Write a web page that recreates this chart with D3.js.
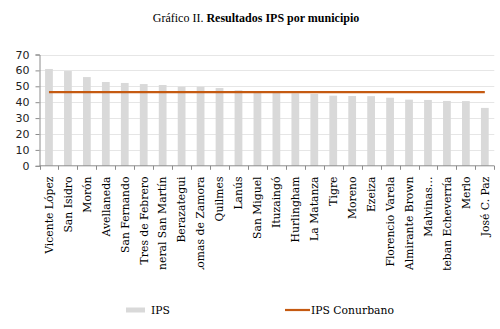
<!DOCTYPE html>
<html>
<head>
<meta charset="utf-8">
<script src="https://cdn.jsdelivr.net/npm/d3@7/dist/d3.min.js"></script>
<style>
  html, body { margin: 0; padding: 0; background: #fff; }
  svg { display: block; }
</style>
</head>
<body>
<svg id="chart" width="500" height="329"></svg>
<script>
// Municipios del Conurbano, ordenados por IPS
const municipios = [
  "Vicente López", "San Isidro", "Morón", "Avellaneda", "San Fernando",
  "Tres de Febrero", "General San Martín", "Berazategui", "Lomas de Zamora",
  "Quilmes", "Lanús", "San Miguel", "Ituzaingó", "Hurlingham", "La Matanza",
  "Tigre", "Moreno", "Ezeiza", "Florencio Varela", "Almirante Brown",
  "Malvinas…", "Esteban Echeverría", "Merlo", "José C. Paz"
];
const ips = [
  60.9, 59.6, 55.8, 52.7, 52.1, 51.4, 50.8, 49.7, 49.7, 48.9, 47.5, 46.3,
  46.0, 45.6, 45.2, 44.1, 43.9, 43.8, 42.8, 41.6, 41.4, 40.8, 40.7, 36.4
];
const ipsConurbano = 46.3;
const yTicks = [0, 10, 20, 30, 40, 50, 60, 70];

const svg = d3.select("#chart");
const plot = { left: 39.5, right: 494.3, top: 54.5, bottom: 165.8 };
const serif = "'DejaVu Serif', serif";

const x = d3.scaleBand()
  .domain(municipios)
  .range([plot.left, plot.right])
  .paddingInner(0.59)
  .paddingOuter(0.295);

const y = d3.scaleLinear()
  .domain([0, 70])
  .range([plot.bottom, plot.top]);

// Title
const title = svg.append("text")
  .attr("x", 256)
  .attr("y", 22)
  .attr("text-anchor", "middle")
  .style("font-family", "'Liberation Serif', serif")
  .style("font-size", "12px")
  .attr("fill", "#000");
title.append("tspan").text("Gráfico II. ");
title.append("tspan").attr("font-weight", "bold").text("Resultados IPS por municipio");

// Horizontal gridlines
svg.append("g")
  .selectAll("line")
  .data(yTicks.filter(d => d > 0))
  .join("line")
  .attr("x1", plot.left)
  .attr("x2", plot.right)
  .attr("y1", d => Math.round(y(d)) + 0.5)
  .attr("y2", d => Math.round(y(d)) + 0.5)
  .attr("stroke", "#e6e6e6")
  .attr("stroke-width", 1);

// Bars
svg.append("g")
  .selectAll("rect")
  .data(municipios.map((m, i) => ({ m, v: ips[i] })))
  .join("rect")
  .attr("x", d => x(d.m))
  .attr("width", x.bandwidth())
  .attr("y", d => y(d.v))
  .attr("height", d => y(0) - y(d.v))
  .attr("fill", "#d9d9d9");

// Conurbano average line, from the first to the last category centre
const half = x.bandwidth() / 2;
svg.append("line")
  .attr("x1", x(municipios[0]) + half)
  .attr("x2", x(municipios[municipios.length - 1]) + half)
  .attr("y1", y(ipsConurbano))
  .attr("y2", y(ipsConurbano))
  .attr("stroke", "#c55a11")
  .attr("stroke-width", 2.2);

// Y axis
const yAxis = svg.append("g")
  .attr("transform", `translate(${plot.left},0)`)
  .call(d3.axisLeft(y).tickValues(yTicks).tickSize(4).tickPadding(6));
yAxis.select(".domain").attr("stroke", "#8c8c8c");
yAxis.selectAll(".tick line").attr("stroke", "#8c8c8c");
yAxis.selectAll(".tick text")
  .style("font-family", "'DejaVu Sans', sans-serif")
  .style("font-size", "11px")
  .attr("fill", "#222");

// X axis: tick marks sit on the category boundaries
const xAxisG = svg.append("g");
xAxisG.append("line")
  .attr("x1", plot.left).attr("x2", plot.right)
  .attr("y1", y(0)).attr("y2", y(0))
  .attr("stroke", "#8c8c8c");
const step = x.step();
const boundaries = d3.range(municipios.length + 1).map(i => plot.left + i * step);
xAxisG.selectAll("line.tk")
  .data(boundaries)
  .join("line")
  .attr("class", "tk")
  .attr("x1", d => Math.round(d) + 0.5)
  .attr("x2", d => Math.round(d) + 0.5)
  .attr("y1", y(0))
  .attr("y2", y(0) + 4)
  .attr("stroke", "#8c8c8c");

// Category labels, rotated, clipped at the bottom of the chart area
svg.append("clipPath").attr("id", "labelClip")
  .append("rect").attr("x", 0).attr("y", 166).attr("width", 500).attr("height", 104);

svg.append("g")
  .attr("clip-path", "url(#labelClip)")
  .selectAll("text")
  .data(municipios)
  .join("text")
  .attr("transform", d => `translate(${x(d) + half},176.5) rotate(-90)`)
  .attr("text-anchor", "end")
  .attr("dy", "0.35em")
  .style("font-family", serif)
  .style("font-size", "10.8px")
  .attr("fill", "#000")
  .text(d => d);

// Legend
const legend = svg.append("g")
  .style("font-family", serif)
  .style("font-size", "10.8px");
legend.append("rect")
  .attr("x", 126).attr("y", 307.5).attr("width", 19).attr("height", 5)
  .attr("fill", "#d9d9d9");
legend.append("text")
  .attr("x", 151).attr("y", 314).text("IPS");
legend.append("line")
  .attr("x1", 285).attr("x2", 310).attr("y1", 310).attr("y2", 310)
  .attr("stroke", "#c55a11").attr("stroke-width", 2.2);
legend.append("text")
  .attr("x", 311).attr("y", 314).text("IPS Conurbano");
</script>
</body>
</html>
